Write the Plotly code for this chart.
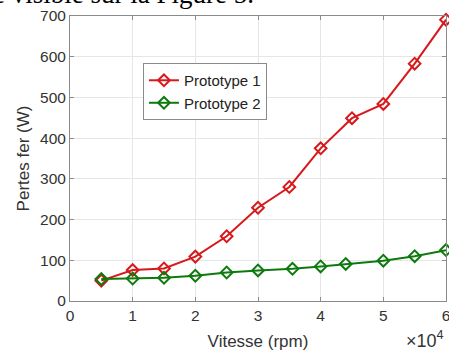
import plotly.graph_objects as go

vitesse = [5000, 10000, 15000, 20000, 25000, 30000, 35000, 40000, 45000, 50000, 55000, 60000]
pertes_p1 = [50, 76, 80, 109, 159, 229, 280, 375, 449, 484, 583, 691]

vitesse_p2 = [5000, 10000, 15000, 20000, 25000, 30000, 35500, 40000, 44000, 50000, 55000, 60000]
pertes_p2 = [54, 55, 57, 62, 70, 75, 79, 85, 91, 99, 110, 125]

xtick_vals = [0, 10000, 20000, 30000, 40000, 50000, 60000]
xtick_text = ["0", "1", "2", "3", "4", "5", "6"]
ytick_vals = [0, 100, 200, 300, 400, 500, 600, 700]

red = "#D7191C"
green = "#0E7A0E"

fig = go.Figure()
fig.add_trace(go.Scatter(
    x=vitesse, y=pertes_p1, mode="lines+markers", name="Prototype 1",
    line=dict(color=red, width=2),
    marker=dict(symbol="diamond-open", size=9, color=red, line=dict(width=2, color=red)),
    cliponaxis=False,
))
fig.add_trace(go.Scatter(
    x=vitesse_p2, y=pertes_p2, mode="lines+markers", name="Prototype 2",
    line=dict(color=green, width=2),
    marker=dict(symbol="diamond-open", size=9, color=green, line=dict(width=2, color=green)),
    cliponaxis=False,
))

axis_common = dict(
    showline=True, linecolor="#8a8a8a", linewidth=1, mirror="ticks",
    ticks="inside", ticklen=4, tickcolor="#8a8a8a",
    showgrid=True, gridcolor="#e6e6e6", gridwidth=1,
    zeroline=False, automargin=False, ticklabeloverflow="allow",
    tickfont=dict(family="Liberation Sans, Arial", size=15.5, color="#333333"),
)

fig.update_xaxes(
    range=[0, 60000], tickvals=xtick_vals, ticktext=xtick_text,
    title=dict(text="Vitesse (rpm)", font=dict(family="Liberation Sans, Arial", size=17, color="#333333"), standoff=12),
    **axis_common,
)
fig.update_yaxes(
    range=[0, 700], tickvals=ytick_vals,
    title=dict(text="Pertes fer (W)", font=dict(family="Liberation Sans, Arial", size=17, color="#333333"), standoff=6),
    **axis_common,
)

fig.add_annotation(
    text="×10<sup>4</sup>", xref="paper", yref="paper", x=1.0, y=-0.088,
    xanchor="right", yanchor="top", showarrow=False,
    font=dict(family="Liberation Sans, Arial", size=18, color="#333333"),
)
fig.add_annotation(
    text="e visible sur la Figure 5.", xref="paper", yref="paper", x=0.4947, y=1.0175,
    xanchor="right", yanchor="bottom", showarrow=False,
    font=dict(family="Liberation Serif, Times New Roman", size=27, color="#000000"),
)

fig.update_layout(
    width=449, height=351,
    margin=dict(l=70, r=3, t=16, b=50),
    paper_bgcolor="white", plot_bgcolor="white",
    showlegend=True,
    legend=dict(
        x=0.194, y=0.835, xanchor="left", yanchor="top",
        bgcolor="white", bordercolor="#8a8a8a", borderwidth=1,
        font=dict(family="Liberation Sans, Arial", size=15, color="#222222"),
        tracegroupgap=0, itemwidth=30,
    ),
)

fig.write_html(
    "out.html",
    config={"displayModeBar": False},
    post_script="document.body.style.margin='0px';document.body.style.overflow='hidden';",
)
